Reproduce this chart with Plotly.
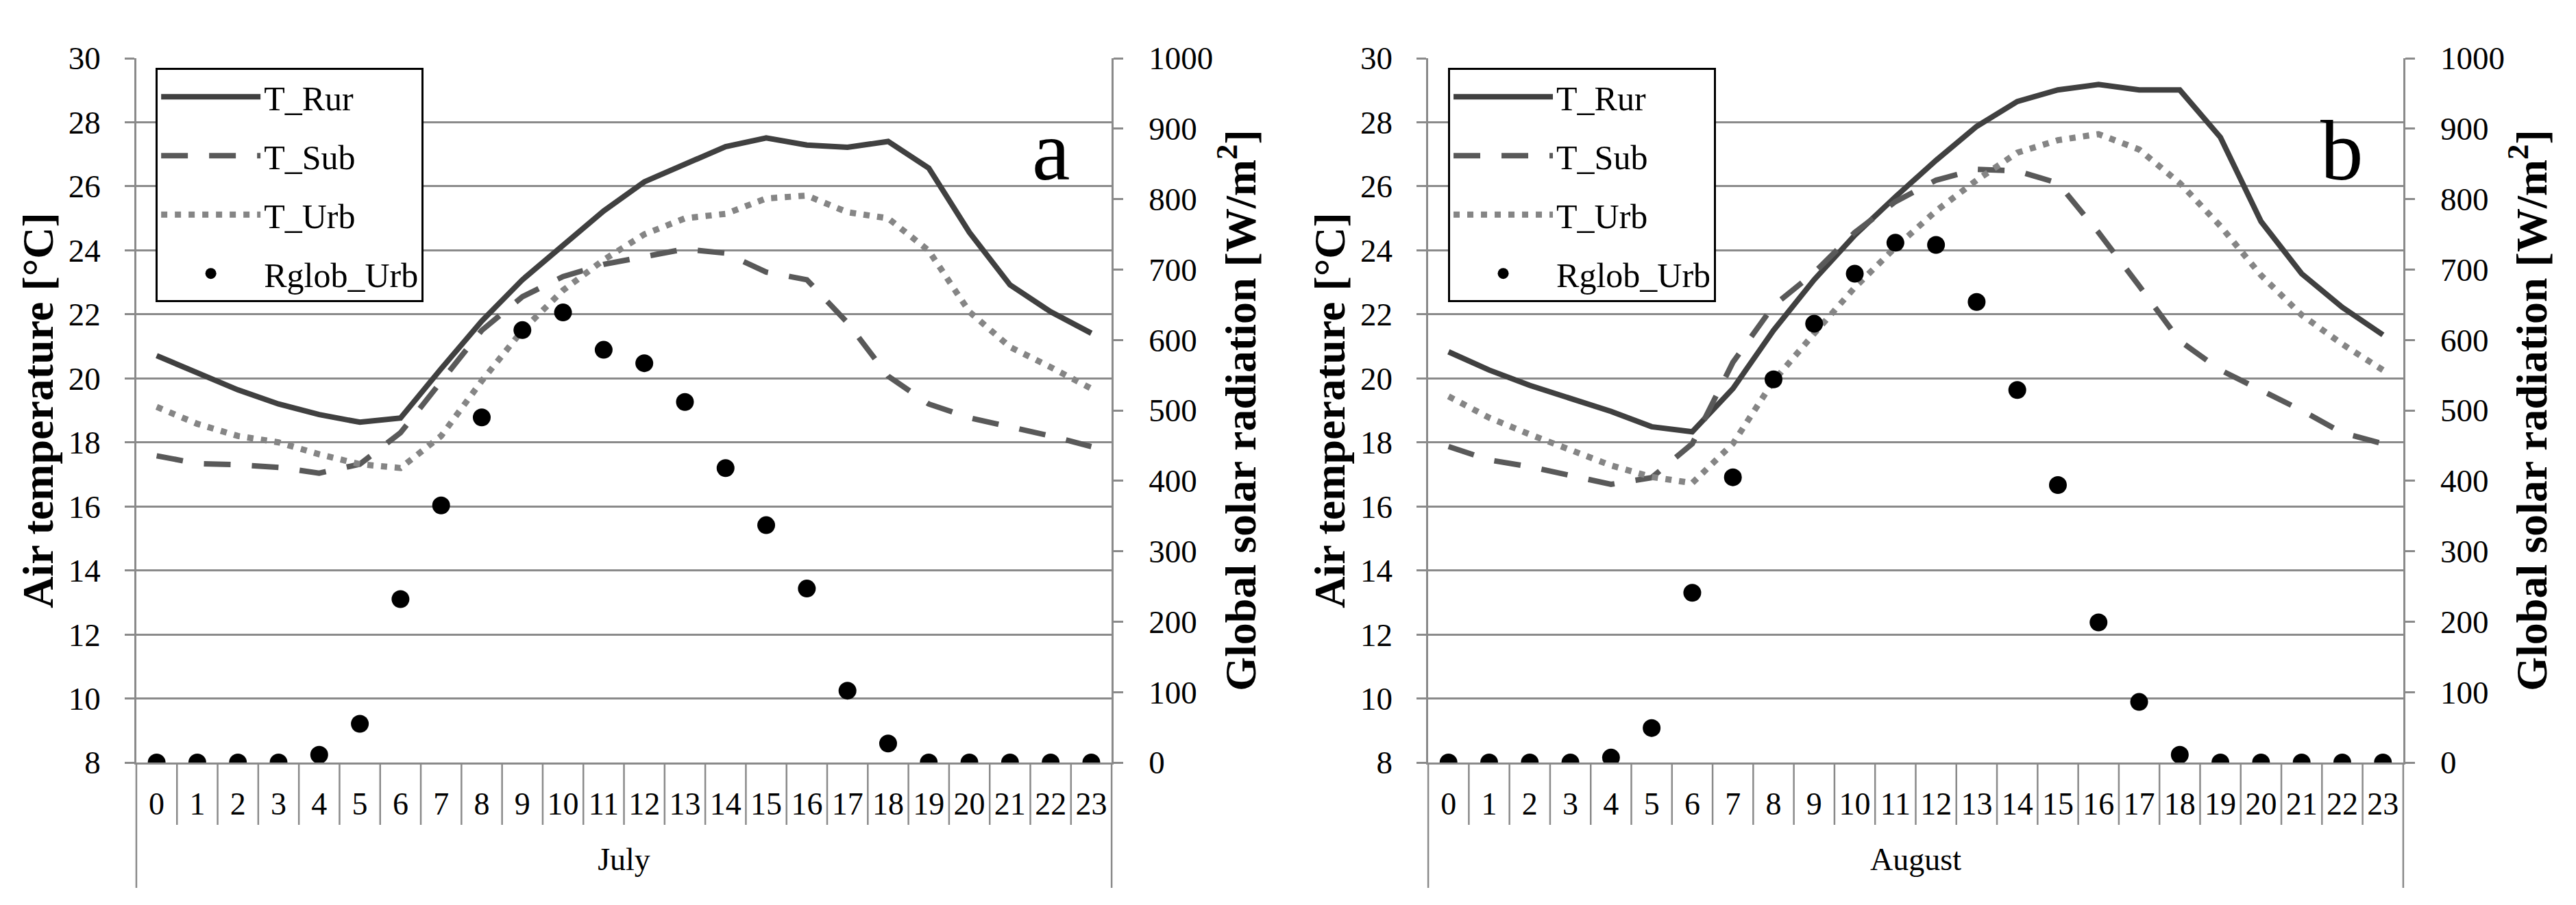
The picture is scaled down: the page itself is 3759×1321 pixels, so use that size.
#Air temperature and global radiation diurnal cycle, July and August
import plotly.graph_objects as go

# Data
hours = list(range(24))
hour_labels = [str(h) for h in hours]

jul_rur = [20.71, 20.18, 19.64, 19.2, 18.87, 18.63, 18.76, 20.3, 21.79, 23.08, 24.13, 25.23,
           26.14, 26.7, 27.24, 27.51, 27.29, 27.22, 27.4, 26.57, 24.56, 22.92, 22.08, 21.41]
jul_sub = [17.58, 17.34, 17.3, 17.22, 17.04, 17.32, 18.3, 19.9, 21.5, 22.55, 23.18, 23.56,
           23.8, 24.04, 23.91, 23.32, 23.08, 21.74, 20.07, 19.2, 18.77, 18.49, 18.2, 17.87]
jul_urb = [19.11, 18.58, 18.2, 18.0, 17.63, 17.32, 17.2, 18.2, 19.92, 21.5, 22.75, 23.7,
           24.5, 25.0, 25.14, 25.62, 25.71, 25.19, 25.0, 23.99, 22.08, 20.98, 20.35, 19.68]
jul_rglob = [0, 0, 0, 0, 11, 55, 232, 365, 490, 614, 639, 586,
             567, 512, 418, 337, 247, 102, 27, 0, 0, 0, 0, 0]

aug_rur = [20.83, 20.26, 19.78, 19.37, 18.97, 18.49, 18.33, 19.68, 21.5, 23.08, 24.47, 25.67,
           26.81, 27.87, 28.65, 29.01, 29.18, 29.01, 29.01, 27.53, 24.9, 23.27, 22.22, 21.36]
aug_sub = [17.87, 17.45, 17.24, 16.98, 16.69, 16.9, 17.96, 20.5, 22.27, 23.3, 24.56, 25.52,
           26.19, 26.53, 26.48, 26.1, 24.56, 22.89, 21.17, 20.26, 19.62, 19.0, 18.3, 17.96]
aug_urb = [19.44, 18.77, 18.25, 17.77, 17.28, 16.92, 16.73, 17.96, 19.92, 21.4, 22.84, 24.09,
           25.23, 26.19, 27.05, 27.44, 27.63, 27.15, 26.1, 24.76, 23.22, 21.98, 21.07, 20.26]
aug_rglob = [0, 0, 0, 0, 7, 49, 241, 405, 544, 623, 694, 738,
             735, 654, 529, 394, 199, 86, 11, 0, 0, 0, 0, 0]

FONT = "Liberation Serif, Times New Roman, serif"
GRID = "#8a8a8a"


def tfont(size, bold=False):
    f = dict(family=FONT, size=size, color="black")
    if bold:
        f["weight"] = "bold"
    return f


panels = [
    dict(month="July", letter="a", rur=jul_rur, sub=jul_sub, urb=jul_urb, rglob=jul_rglob,
         xdom=[0.0508, 0.4294], legx=0.0583),
    dict(month="August", letter="b", rur=aug_rur, sub=aug_sub, urb=aug_urb, rglob=aug_rglob,
         xdom=[0.5523, 0.9308], legx=0.5600),
]
ydom = [0.1635, 0.9417]

fig = go.Figure()
layout = dict(width=3759, height=1321, margin=dict(l=0, r=0, t=0, b=0, autoexpand=False),
              paper_bgcolor="white", plot_bgcolor="white",
              font=tfont(46), shapes=[], annotations=[])

for i, p in enumerate(panels):
    xa = "x" if i == 0 else "x2"
    ya = "y" if i == 0 else "y3"
    ya2 = "y2" if i == 0 else "y4"
    leg = "legend" if i == 0 else "legend2"

    fig.add_trace(go.Scatter(x=hours, y=p["rur"], name="T_Rur", mode="lines", xaxis=xa, yaxis=ya,
                             line=dict(color="#404040", width=8), legend=leg, legendgroup="a"))
    fig.add_trace(go.Scatter(x=hours, y=p["sub"], name="T_Sub", mode="lines", xaxis=xa, yaxis=ya,
                             line=dict(color="#595959", width=8, dash="39px,31px"), legend=leg, legendgroup="b"))
    fig.add_trace(go.Scatter(x=hours, y=p["urb"], name="T_Urb", mode="lines", xaxis=xa, yaxis=ya,
                             line=dict(color="#858585", width=9, dash="9px,11px"), legend=leg, legendgroup="c"))
    fig.add_trace(go.Scatter(x=hours, y=p["rglob"], name="Rglob_Urb", mode="markers", xaxis=xa, yaxis=ya2,
                             marker=dict(color="black", size=26), legend=leg, legendgroup="d"))

    xkey = "xaxis" if i == 0 else "xaxis2"
    ykey = "yaxis" if i == 0 else "yaxis3"
    y2key = "yaxis2" if i == 0 else "yaxis4"

    layout[xkey] = dict(domain=p["xdom"], anchor=ya, range=[-0.5, 23.5], tickmode="array",
                        tickvals=hours, ticktext=hour_labels, ticks="", showgrid=False,
                        showline=True, linecolor=GRID, linewidth=2.5, zeroline=False,
                        automargin=False, tickfont=tfont(46), ticklabelstandoff=18,
                        title=dict(text=p["month"], font=tfont(46), standoff=40))
    layout[ykey] = dict(domain=ydom, anchor=xa, range=[8, 30], dtick=2, tick0=8,
                        ticks="outside", ticklen=14, tickwidth=2.5, tickcolor=GRID,
                        showline=True, linecolor=GRID, linewidth=2.5, automargin=False,
                        showgrid=True, gridcolor=GRID, gridwidth=2.5, zeroline=False,
                        tickfont=tfont(47), ticklabelstandoff=26,
                        title=dict(text="Air temperature [°C]", font=tfont(64, True), standoff=2))
    layout[y2key] = dict(domain=ydom, anchor=xa, overlaying=ya, side="right", range=[0, 1000],
                         dtick=100, ticks="outside", ticklen=14, tickwidth=2.5, tickcolor=GRID,
                         showline=True, linecolor=GRID, linewidth=2.5, showgrid=False,
                         zeroline=False, automargin=False, tickfont=tfont(47), ticklabelstandoff=28,
                         title=dict(text="Global solar radiation [W/m<sup>2</sup>]",
                                    font=tfont(64, True), standoff=18))

    layout[leg] = dict(x=p["legx"], y=0.931, xanchor="left", yanchor="top",
                       bordercolor="black", borderwidth=3, bgcolor="white",
                       font=tfont(50), itemwidth=145, tracegroupgap=18,
                       traceorder="grouped")

    # category separators below the axis
    xd = xa + " domain"
    yd = ya + " domain"
    n = len(hours)
    for k in range(1, n):
        layout["shapes"].append(dict(type="line", xref=xd, yref=yd, x0=k / n, x1=k / n,
                                     y0=0, y1=-0.0885, line=dict(color=GRID, width=2.5)))
    for edge in (0, 1):
        layout["shapes"].append(dict(type="line", xref=xd, yref=yd, x0=edge, x1=edge,
                                     y0=0, y1=-0.178, line=dict(color=GRID, width=2.5)))

    layout["annotations"].append(dict(text=p["letter"], xref=xd, yref=yd, x=0.9375, y=0.80,
                                      xanchor="center", yanchor="bottom", showarrow=False,
                                      font=tfont(125)))

fig.update_layout(**layout)
fig.write_html("out.html")
